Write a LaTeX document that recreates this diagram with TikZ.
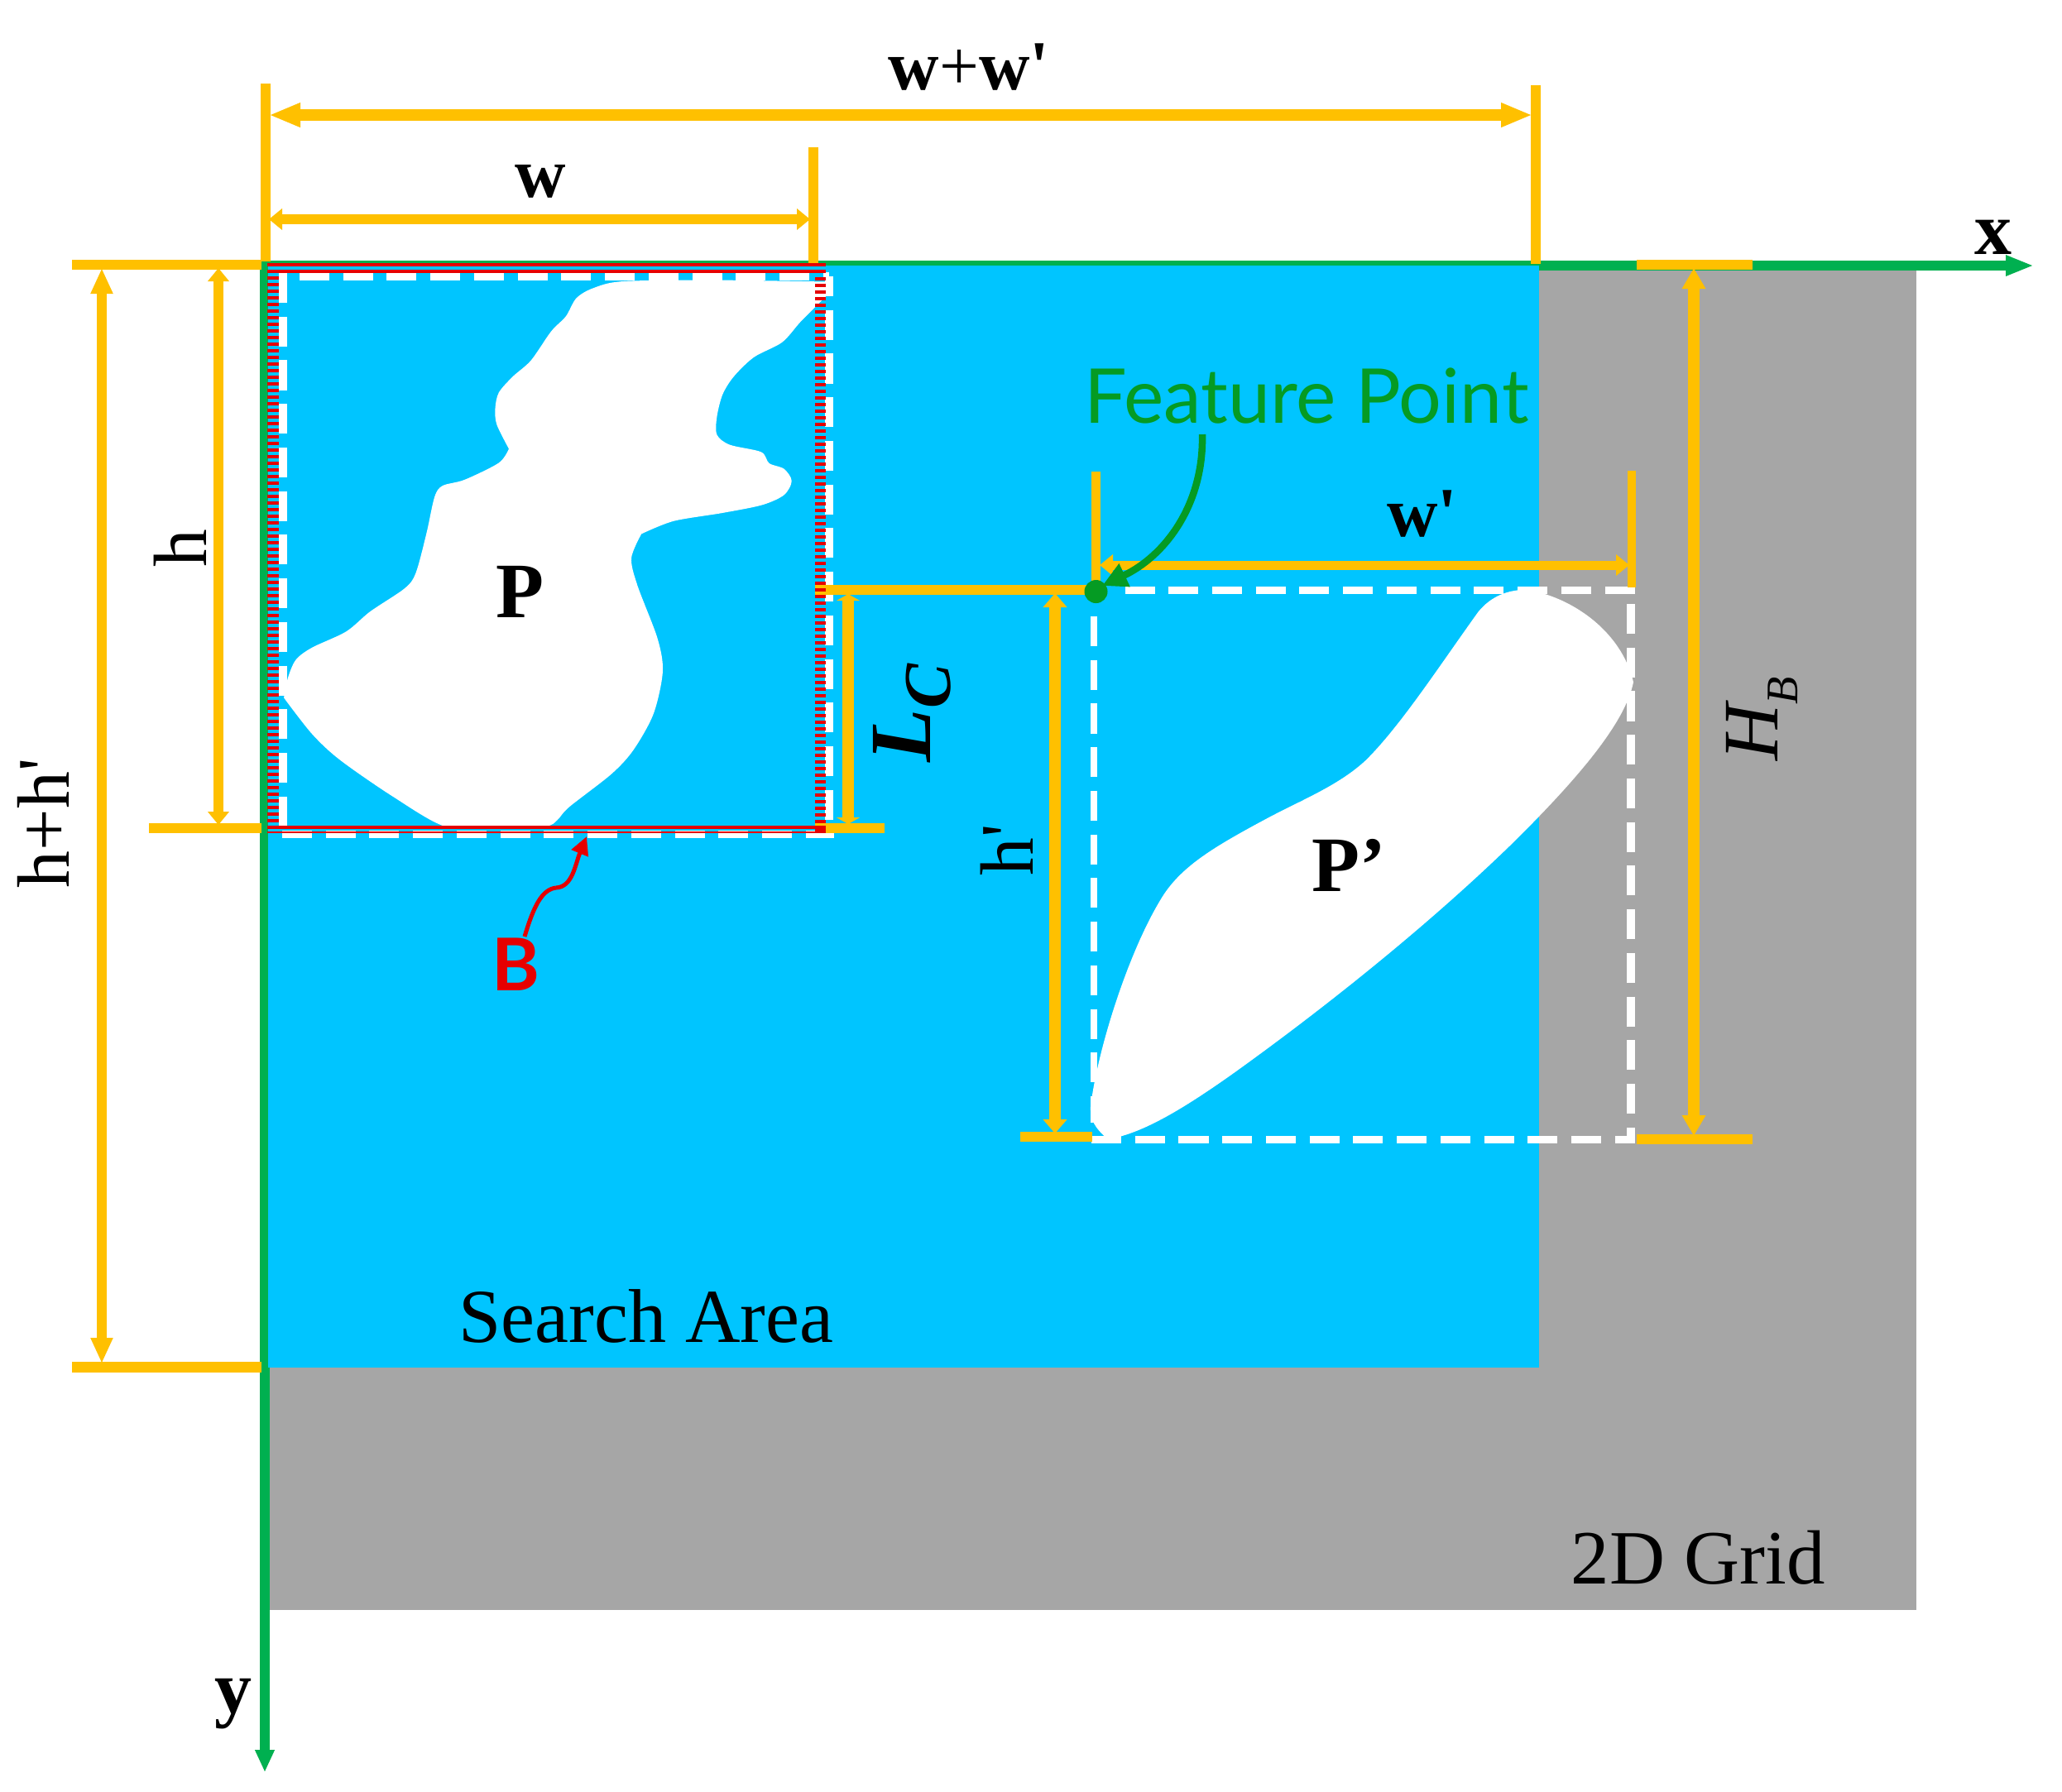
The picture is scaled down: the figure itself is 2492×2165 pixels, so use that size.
\documentclass[tikz,border=0pt]{standalone}
\usepackage{fontspec}
\usetikzlibrary{arrows.meta}
\newfontfamily\tnr{Liberation Serif}
\newfontfamily\bfont{Lato}
\definecolor{ybar}{RGB}{255,192,0}
\definecolor{axisgreen}{RGB}{0,176,80}
\definecolor{areablue}{RGB}{0,197,255}
\definecolor{gridgray}{RGB}{166,166,166}
\definecolor{fpgreen}{RGB}{5,155,35}
\definecolor{bred}{RGB}{230,0,0}
\tikzset{
  x=0.01cm,y=-0.01cm,
  ybarline/.style={draw=ybar,line width=.12cm},
  dimline/.style={draw=ybar,line width=.13cm,fill=ybar},
  axisline/.style={draw=axisgreen,line width=.12cm},
  wdash/.style={draw=white,line width=.095cm,dash pattern=on .36cm off .167cm},
  redbar/.style={draw=bred,line width=.04cm},
  redstripe/.style={draw=bred,line width=.135cm,dash pattern=on .04cm off .04cm},
  tx/.style={inner sep=0pt,outer sep=0pt,anchor=base,text=black},
  fn/.style={font=\tnr\fontsize{#1}{#1}\selectfont},
  fb/.style={font=\tnr\bfseries\fontsize{#1}{#1}\selectfont},
  hAA/.tip={Triangle[length=.38cm,width=.27cm]},
  hHH/.tip={Triangle[length=.31cm,width=.25cm]},
  hMM/.tip={Triangle[length=.16cm,width=.25cm]},
  hPP/.tip={Triangle[length=.17cm,width=.28cm]},
  hLL/.tip={Triangle[length=.08cm,width=.28cm]},
  hBB/.tip={Triangle[length=.25cm,width=.27cm]},
}
\begin{document}
\begin{tikzpicture}
\useasboundingbox (0,0) rectangle (2492,2165);
% named end points
\coordinate (orig) at (314,321);
\coordinate (xtip) at (2458,321);
\coordinate (ystart) at (320,321);
\coordinate (ytip) at (320,2142);
\coordinate (tickL0) at (321,101);
\coordinate (tickL1) at (321,316);
\coordinate (tickW0) at (983,178);
\coordinate (tickW1) at (983,318);
\coordinate (tickWW0) at (1856,103);
\coordinate (tickWW1) at (1856,319);
\coordinate (barA0) at (87,320);
\coordinate (barA1) at (316,320);
\coordinate (barB0) at (180,1001);
\coordinate (barB1) at (316,1001);
\coordinate (barC0) at (87,1652.5);
\coordinate (barC1) at (316,1652.5);
\coordinate (barD0) at (985,713);
\coordinate (barD1) at (1325,713);
\coordinate (barE0) at (985,1001);
\coordinate (barE1) at (1069,1001);
\coordinate (barF0) at (1233,1373.5);
\coordinate (barF1) at (1320,1373.5);
\coordinate (barG0) at (1978,320);
\coordinate (barG1) at (2118,320);
\coordinate (barH0) at (1978,1377);
\coordinate (barH1) at (2118,1377);
\coordinate (tickP0) at (1324.5,570);
\coordinate (tickP1) at (1324.5,712);
\coordinate (tickQ0) at (1972,569);
\coordinate (tickQ1) at (1972,710);
% grid, axes, search area
\fill[gridgray] (326,327) rectangle (2316,1946);
\draw[axisline,-{Triangle[length=.34cm,width=.23cm]}] (orig) -- (xtip);
\draw[axisline,-{Triangle[length=.27cm,width=.22cm]}] (ystart) -- (ytip);
\fill[areablue] (324,321) rectangle (1860,1653);
% polygon P
\begin{scope}[shift={(280,290)},x=0.004847cm,y=-0.004847cm]
\fill[white] plot[smooth,tension=0.5] coordinates {
(1020,732)(995,792)(1010,860)(1060,992)(1073,1075)(1050,1180)(1000,1270)(945,1330)(840,1412)(810,1445)(780,1460)(650,1464)(530,1460)(400,1385)(270,1295)(200,1230)(130,1140)}
-- plot[smooth,tension=0.5] coordinates {
(130,1140)(140,1090)(160,1045)(200,1015)(285,975)(345,925)(430,868)(458,830)(485,730)(505,640)(525,612)(580,597)(665,555)(690,520)}
-- plot[smooth,tension=0.5] coordinates {
(690,520)(660,460)(656,420)(665,380)(700,340)(745,300)(795,228)(832,190)(858,145)(900,120)(975,103)(1200,100)(1480,104)}
-- (1480,140)
-- plot[smooth,tension=0.5] coordinates {
(1480,140)(1455,165)(1415,205)(1370,255)(1300,292)(1250,340)(1222,385)(1208,440)(1208,485)(1240,510)(1318,528)(1338,556)(1375,570)(1394,600)(1375,635)(1320,660)(1220,680)(1100,700)(1020,732)}
-- cycle;
\end{scope}
% polygon P'
\begin{scope}[shift={(1200,640)},x=0.00523cm,y=-0.004847cm]
\fill[white] (1230,150) .. controls (1330,165) and (1450,250) .. (1478,380)
 .. controls (1460,480) and (1350,620) .. (1200,780)
 .. controls (1000,990) and (760,1195) .. (560,1350)
 .. controls (430,1450) and (340,1505) .. (265,1518)
 .. controls (235,1490) and (225,1470) .. (225,1440)
 .. controls (240,1300) and (310,1060) .. (385,925)
 .. controls (430,840) and (510,790) .. (640,715)
 .. controls (720,670) and (800,635) .. (860,575)
 .. controls (940,490) and (1030,340) .. (1120,205)
 .. controls (1150,165) and (1190,150) .. (1230,150) -- cycle;
\end{scope}
% white dashed boxes
\draw[wdash] (342,330) -- (342,1004);
\draw[wdash] (362,334) -- (1002,334);
\draw[wdash,dash phase=.12cm] (1002,334) -- (1002,1004);
\draw[wdash,line width=.09cm] (341,1008.5) -- (1008,1008.5);
\draw[wdash,line width=.085cm] (1322,745) -- (1322,1357);
\draw[wdash,line width=.085cm] (1359.5,713.5) -- (1976,713.5);
\draw[wdash] (1971,730) -- (1971,1377);
\draw[wdash,line width=.09cm] (1319,1377) -- (1976,1377);
% yellow bars and ticks
\draw[ybarline] (tickL0) -- (tickL1);
\draw[ybarline] (tickW0) -- (tickW1);
\draw[ybarline] (tickWW0) -- (tickWW1);
\draw[ybarline] (barA0) -- (barA1);
\draw[ybarline] (barB0) -- (barB1);
\draw[ybarline,line width=.13cm] (barC0) -- (barC1);
\draw[ybarline] (barD0) -- (barD1);
\draw[ybarline] (barE0) -- (barE1);
\draw[ybarline] (barF0) -- (barF1);
\draw[ybarline] (barG0) -- (barG1);
\draw[ybarline] (barH0) -- (barH1);
\draw[ybarline,line width=.11cm] (tickP0) -- (tickP1);
\draw[ybarline,line width=.105cm] (tickQ0) -- (tickQ1);
% dimension arrows
\coordinate (dWWa) at (325,139); \coordinate (dWWb) at (1852,139);
\coordinate (dWa) at (325,265); \coordinate (dWb) at (979,265);
\coordinate (dAa) at (123,324); \coordinate (dAb) at (123,1648);
\coordinate (dBa) at (264,324); \coordinate (dBb) at (264,997);
\coordinate (dLa) at (1025,718); \coordinate (dLb) at (1025,996);
\coordinate (dPa) at (1275,717); \coordinate (dPb) at (1275,1370);
\coordinate (dQa) at (1329,683); \coordinate (dQb) at (1969,683);
\coordinate (dGa) at (2047,324); \coordinate (dGb) at (2047,1373);
\draw[dimline,line width=.14cm,{hAA}-{hAA}] (dWWa) -- (dWWb);
\draw[dimline,line width=.12cm,{hMM}-{hMM}] (dWa) -- (dWb);
\draw[dimline,line width=.12cm,{hHH}-{hHH}] (dAa) -- (dAb);
\draw[dimline,line width=.12cm,{hMM}-{hMM}] (dBa) -- (dBb);
\draw[dimline,line width=.14cm,{hLL}-{hLL}] (dLa) -- (dLb);
\draw[dimline,line width=.14cm,{hPP}-{hPP}] (dPa) -- (dPb);
\draw[dimline,line width=.11cm,{hMM}-{hMM}] (dQa) -- (dQb);
\draw[dimline,line width=.14cm,{hBB}-{hBB}] (dGa) -- (dGb);
% red boundary of box B
\draw[redbar] (323,320) -- (998,320);
\draw[redbar] (323,328) -- (998,328);
\draw[redbar] (323,1000) -- (998,1000);
\draw[redbar,line width=.025cm] (323,1006) -- (998,1006);
\fill[bred] (985,998) rectangle (998,1007);
\draw[redstripe] (330,334) -- (330,998);
\draw[redstripe] (991.5,335) -- (991.5,998);
% feature point
\node[circle,fill=fpgreen,minimum size=.28cm,inner sep=0pt] (fpdot) at (1324.5,715) {};
\node[tx,text=fpgreen,font=\bfont\fontsize{26pt}{26pt}\selectfont] (fplabel) at (1579,511) {Feature Point};
\coordinate (fpstart) at (1453,525);
\coordinate (fptip) at (1332,708);
\draw[draw=fpgreen,line width=.085cm,-{Triangle[length=.30cm,width=.29cm]}] (fpstart) .. controls (1455,610) and (1408,672) .. (fptip);
% B label and arrow
\node[tx,text=bred,font=\bfont\bfseries\fontsize{25pt}{25pt}\selectfont] (blabel) at (623,1197) {B};
\coordinate (bstart) at (634,1132);
\coordinate (bmid) at (672,1073);
\coordinate (btip) at (709,1011);
\draw[draw=bred,line width=.05cm] (bstart) .. controls (645,1095) and (655,1075) .. (bmid);
\draw[draw=bred,line width=.05cm,-{Triangle[length=.22cm,width=.21cm]}] (bmid) .. controls (692,1072) and (695,1045) .. (btip);
% texts
\node[tx,fb=24.2pt] (lwwp) at (1171,108) {w{\mdseries+}w'};
\node[tx,fb=24.2pt] (lw) at (653,238) {w};
\node[tx,fb=25.6pt] (lx) at (2409,307) {x};
\node[tx,fb=25.6pt] (ly) at (282,2070) {y};
\node[tx,fb=27pt] (lP) at (628,746.6) {P};
\node[tx,fb=27pt] (lPp) at (1630,1077) {P’};
\node[tx,fn=26.2pt] (lsearch) at (781,1622) {Search Area};
\node[tx,fn=26.4pt] (lgrid) at (2052,1914) {2D Grid};
\node[tx,fn=26pt,rotate=90] (lh) at (249,663) {h};
\node[tx,fn=25.5pt,rotate=90] (lhhp) at (83,995) {h+h'};
\node[tx,fn=26pt,rotate=90] (lhp) at (1248,1027) {h'};
\node[tx,fb=24.2pt] (lwp) at (1719,648) {w'};
\node[tx,rotate=90,font=\tnr\bfseries\itshape\fontsize{30pt}{30pt}\selectfont] (lLC) at (1124,862) {L\raisebox{-7pt}{\fontsize{23pt}{23pt}\selectfont C}};
\node[tx,rotate=90,font=\tnr\itshape\fontsize{27pt}{27pt}\selectfont] (lHB) at (2148,869) {H\raisebox{-7pt}{\fontsize{15.5pt}{15.5pt}\selectfont B}};
\end{tikzpicture}
\end{document}
